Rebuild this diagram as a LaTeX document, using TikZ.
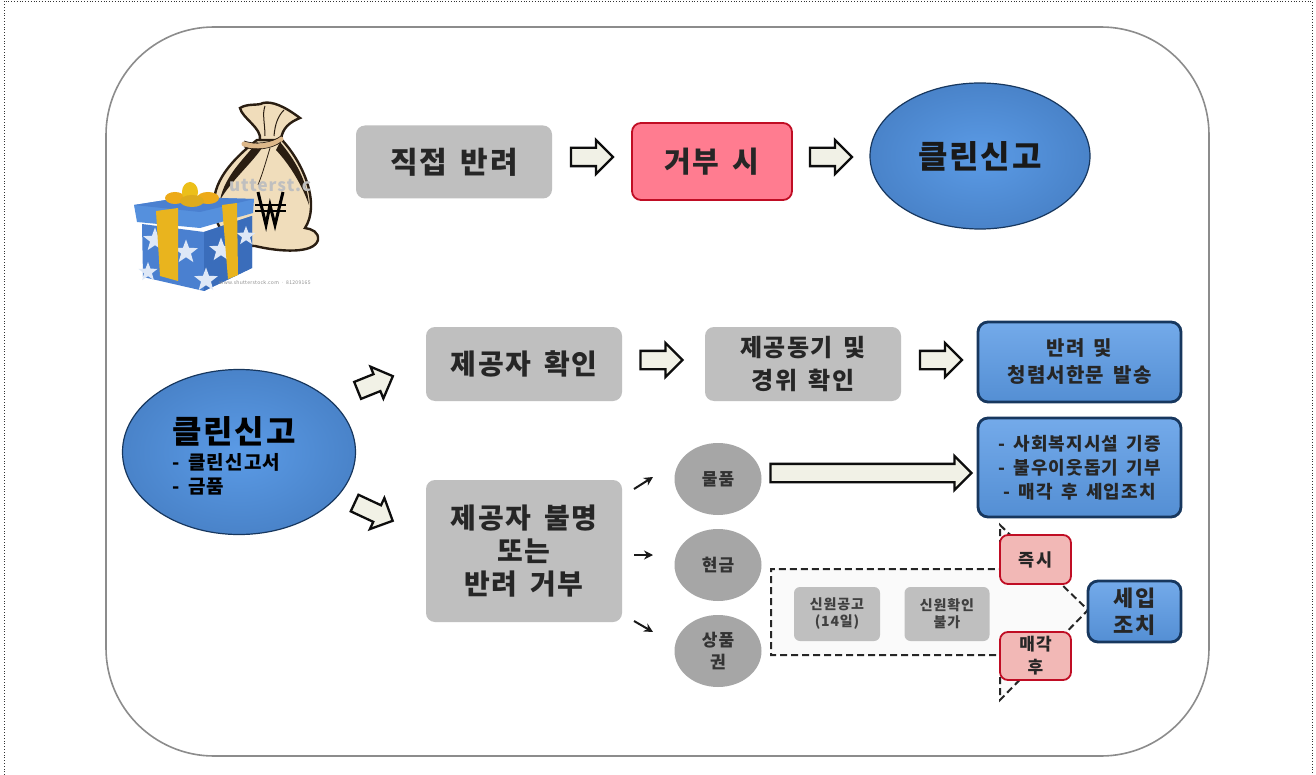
\documentclass[tikz,border=0pt]{standalone}
\usepackage{fontspec}
\setmainfont{Noto Sans CJK KR}[LetterSpace=6,WordSpace=1.6]
\usetikzlibrary{shapes.geometric,shapes.arrows,arrows.meta,calc}
\definecolor{grayBox}{HTML}{BFBFBF}
\definecolor{grayCirc}{HTML}{A6A6A6}
\definecolor{blueMain}{HTML}{5B9BE6}
\definecolor{blueRim}{HTML}{2F5F9E}
\definecolor{blueDark}{HTML}{17375E}
\definecolor{pinkHi}{HTML}{FF7C90}
\definecolor{redLine}{HTML}{C00D24}
\definecolor{pinkLo}{HTML}{F2B8B6}
\definecolor{arrowFill}{HTML}{F1F1E6}
\definecolor{frameLine}{HTML}{8C8C8C}
\definecolor{sack}{HTML}{F0DDBB}
\definecolor{sackDk}{HTML}{2A1E12}
\definecolor{boxBlue}{HTML}{4A80D0}
\definecolor{boxSide}{HTML}{3A6DBB}
\definecolor{boxBlueLt}{HTML}{5590DD}
\definecolor{ribbon}{HTML}{E9B41E}
\tikzset{
  x=1pt,y=-1pt,
  txt/.style={font=\bfseries\fontsize{#1}{#1}\selectfont},
  graybox/.style={rounded corners=9pt,fill=grayBox,draw=none,align=center,inner sep=0pt,text=black!85},
  oval/.style={ellipse,inner sep=0pt,draw=blueDark,line width=1.2pt,inner color=blueMain,outer color=blueMain!60!blueRim,align=center,text=black!90},
  bluebox/.style={rounded corners=10pt,draw=blueDark,line width=2.8pt,top color=blueMain!85!white,bottom color=blueMain!92!black,align=center,inner sep=0pt,text=black!85},
  gcirc/.style={ellipse,inner sep=0pt,fill=grayCirc,align=center,text=black!80},
  smallbox/.style={rounded corners=6pt,fill=grayBox,align=center,inner sep=0pt,text=black!75},
  pinkbox/.style={rounded corners=8pt,draw=redLine,line width=1.8pt,fill=pinkLo,align=center,inner sep=0pt,text=black!85},
  blockarrow/.style={single arrow,draw=black!95,line width=2.3pt,fill=arrowFill,inner xsep=0pt,inner ysep=8pt,minimum height=42pt,minimum width=33pt,single arrow head extend=8pt,single arrow head indent=0pt},
  thinarrow/.style={draw=black!90,line width=2pt,-{Stealth[length=9pt,width=9pt,inset=3pt]}},
  dashline/.style={draw=black!85,line width=2pt,dash pattern=on 7pt off 4pt},
  whitestar/.style={star,star points=5,star point ratio=2.4,fill=white!82!boxBlue,inner sep=0pt,minimum size=25pt},
}
\begin{document}
\begin{tikzpicture}
\useasboundingbox (0,0) rectangle (1316,775);
\fill[white] (0,0) rectangle (1316,775);
% page frame and panel
\draw[black!80,line width=.8pt,dotted] (4,775) -- (4,1) -- (1312,1) -- (1312,775);
\draw[frameLine,line width=1.6pt,fill=white,rounded corners=108pt] (106,27) rectangle (1209,756);

% money bag
\fill[sack,draw=sackDk,line width=2.4pt]
  (257,140) .. controls (238,155) and (213,178) .. (214,205)
  .. controls (215,235) and (235,246) .. (255,246)
  .. controls (280,252) and (314,254) .. (318,240)
  .. controls (319,232) and (312,229) .. (305,228)
  .. controls (320,205) and (305,165) .. (282,140) -- cycle;
\fill[sackDk] (257,142) .. controls (245,158) and (225,175) .. (220,200) .. controls (232,180) and (250,165) .. (262,148) -- cycle;
\fill[sackDk] (280,142) .. controls (295,160) and (307,180) .. (309,205) .. controls (302,185) and (290,165) .. (276,150) -- cycle;
\fill[sack,draw=sackDk,line width=2.4pt]
  (260,140) .. controls (262,128) and (242,118) .. (240,108)
  .. controls (248,103) and (258,106) .. (263,103)
  .. controls (272,101) and (284,106) .. (300,118)
  .. controls (290,122) and (282,128) .. (281,140) -- cycle;
\draw[sackDk,line width=1pt] (265,136) .. controls (265,124) and (262,114) .. (265,106);
\draw[sackDk,line width=1pt] (274,136) .. controls (275,124) and (278,116) .. (284,110);
\draw[sackDk,line width=.8pt] (270,148) .. controls (265,165) and (262,175) .. (258,185);
\draw[sack!60!brown,line width=5pt,line cap=round] (244,144) .. controls (255,148) and (272,146) .. (281,139);
\draw[sackDk,line width=.7pt] (244,141) .. controls (255,145) and (272,143) .. (281,136);
\draw[sackDk,line width=.7pt] (244,147) .. controls (255,151) and (272,149) .. (281,142);
\node[text=black!25] (wmark) at (270,186) {\bfseries\fontsize{17}{19}\selectfont utterst.c};
% won sign
\draw[black,line width=3pt,line join=miter] (258,192) -- (266,225) -- (270,205) -- (275,225) -- (283,192);
\draw[black,line width=2pt] (255,205) -- (286,205) (255,211) -- (286,211);

% gift box
\fill[boxBlue] (142,224) -- (204,232) -- (252,216) -- (252,268) -- (204,291) -- (143,277) -- cycle;
\fill[boxSide] (204,232) -- (252,216) -- (252,268) -- (204,291) -- cycle;
\node[whitestar] (star1) at (186,252) {};
\node[whitestar] (star2) at (155,240) {};
\node[whitestar,minimum size=20pt] (star3) at (148,272) {};
\node[whitestar] (star4) at (206,280) {};
\node[whitestar] (star5) at (221,250) {};
\node[whitestar,minimum size=20pt] (star6) at (246,236) {};
\fill[boxBlueLt] (134,205) -- (185,197) -- (254,199) -- (253,213) -- (200,228) -- (137,222) -- cycle;
\fill[boxBlue] (134,205) -- (185,197) -- (254,199) -- (200,212) -- cycle;
\fill[ribbon] (156,211) -- (178,208) -- (178,281) -- (160,276) -- cycle;
\fill[ribbon] (222,205) -- (237,203) -- (238,275) -- (228,279) -- cycle;
\fill[ribbon!80!orange] (175,198) ellipse (10 and 6);
\fill[ribbon!85!yellow] (190,192) ellipse (8 and 10);
\fill[ribbon!80!orange] (208,198) ellipse (11 and 6);
\fill[ribbon!95!black] (192,201) ellipse (12 and 6);
\node[text=black!45] (credit) at (265,283) {\fontsize{5}{6}\selectfont www.shutterstock.com · 81209165};

% dashed pentagon
\coordinate (pTL) at (771,569);
\coordinate (pBL) at (771,655);
\coordinate (pB) at (1000,655);
\coordinate (pT) at (1000,569);
\coordinate (pApexT) at (1000,525);
\coordinate (pApexB) at (1000,700);
\coordinate (pTip) at (1088,610);
\fill[black!2] (pTL) -- (pT) -- (pApexT) -- (pTip) -- (pApexB) -- (pB) -- (pBL) -- cycle;
\draw[dashline] (pT) -- (pApexT) -- (pTip) -- (pApexB) -- (pB) -- (pBL) -- (pTL) -- (pT);

% top row
\node[graybox,txt=30,minimum width=196pt,minimum height=73pt] (direct) at (454,162) {직접 반려};
\node[rounded corners=9pt,draw=redLine,line width=1.8pt,fill=pinkHi,txt=29,minimum width=160pt,minimum height=77pt,inner sep=0pt,text=black!85] (refuse) at (712,161.5) {거부 시};
\node[oval,txt=32,minimum width=220pt,minimum height=146pt] (clean1) at (980,156) {클린신고};
\node[blockarrow] (a1) at (587.5,157) {};
\node[blockarrow] (a2) at (826.5,157) {};

% lower left
\node[oval,minimum width=233pt,minimum height=165pt] (clean2) at (239,452) {};
\node[anchor=west,txt=32,inner sep=0pt] (clean2a) at (172,431) {클린신고};
\node[anchor=west,align=left,inner sep=0pt,font=\bfseries\fontsize{19}{24}\selectfont] (clean2b) at (172,474) {- 클린신고서\\- 금품};
\node[blockarrow,rotate=22,minimum height=38pt] (a3) at (371,385) {};
\node[blockarrow,rotate=-25] (a4) at (369.5,510) {};

% second row
\node[graybox,txt=28,minimum width=196pt,minimum height=74pt] (who) at (524,364) {제공자 확인};
\node[graybox,font=\bfseries\fontsize{24}{33}\selectfont,minimum width=196pt,minimum height=74pt] (motive) at (803,364) {제공동기 및\\경위 확인};
\node[bluebox,font=\bfseries\fontsize{20}{27}\selectfont,minimum width=203pt,minimum height=80pt] (ret) at (1079.5,362) {반려 및\\청렴서한문 발송};
\node[blockarrow] (a5) at (657,360) {};
\node[blockarrow] (a6) at (936.5,360) {};

% unknown giver
\node[graybox,font=\bfseries\fontsize{28}{33}\selectfont,minimum width=196pt,minimum height=142pt] (unk) at (524,551) {제공자 불명\\또는\\반려 거부};
\node[gcirc,font=\bfseries\fontsize{17}{20}\selectfont,minimum width=87pt,minimum height=72pt] (goods) at (718,479) {물품};
\node[gcirc,font=\bfseries\fontsize{17}{20}\selectfont,minimum width=87pt,minimum height=72pt] (cash) at (718,565) {현금};
\node[gcirc,font=\bfseries\fontsize{17}{22}\selectfont,minimum width=87pt,minimum height=72pt] (gift) at (718,651) {상품\\권};
\coordinate (t1s) at (634,489); \coordinate (t1e) at (653,477);
\coordinate (t2s) at (634,555); \coordinate (t2e) at (653,555);
\coordinate (t3s) at (634,621); \coordinate (t3e) at (653,632);
\draw[thinarrow] (t1s) -- (t1e);
\draw[thinarrow] (t2s) -- (t2e);
\draw[thinarrow] (t3s) -- (t3e);

\node[bluebox,font=\bfseries\fontsize{18}{24}\selectfont,minimum width=203pt,minimum height=99pt] (dona) at (1079.5,467.5) {- 사회복지시설 기증\\- 불우이웃돕기 기부\\- 매각 후 세입조치};
\node[blockarrow,minimum height=201pt] (a7) at (866.5,473) {};

% pink / small boxes
\node[smallbox,font=\bfseries\fontsize{14}{17}\selectfont,minimum width=86pt,minimum height=54pt] (notice) at (837,614) {신원공고\\(14일)};
\node[smallbox,font=\bfseries\fontsize{14}{17}\selectfont,minimum width=85pt,minimum height=54pt] (noid) at (947,614) {신원확인\\불가};
\node[pinkbox,font=\bfseries\fontsize{17.5}{22}\selectfont,minimum width=71pt,minimum height=49pt] (now) at (1035.5,559.5) {즉시};
\node[pinkbox,font=\bfseries\fontsize{17}{23}\selectfont,minimum width=71pt,minimum height=48pt] (sale) at (1035.5,656) {매각\\후};
\node[bluebox,font=\bfseries\fontsize{22}{27}\selectfont,minimum width=93pt,minimum height=61pt] (rev) at (1134.5,611.5) {세입\\조치};
\end{tikzpicture}
\end{document}
